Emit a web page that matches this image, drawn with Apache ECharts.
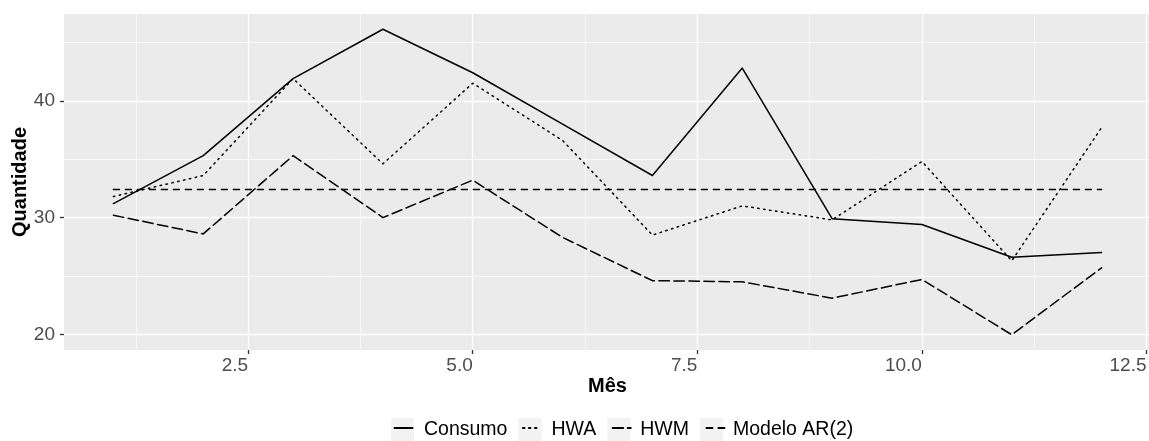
<!DOCTYPE html>
<html>
<head>
<meta charset="utf-8">
<title>Consumo mensal e previsões</title>
<script src="https://cdn.jsdelivr.net/npm/echarts@6/dist/echarts.min.js"></script>
<style>
  html, body { margin: 0; padding: 0; background: #ffffff; }
  #chart { width: 1149px; height: 441px; }
</style>
</head>
<body>
<div id="chart"></div>
<script>
// Mês 1..12
const meses = [1, 2, 3, 4, 5, 6, 7, 8, 9, 10, 11, 12];

// Séries observada e previstas
const consumo = [31.2, 35.3, 41.9, 46.12, 42.4, 38.0, 33.6, 42.8, 29.9, 29.4, 26.6, 27.0];
const hwa     = [31.8, 33.6, 41.9, 34.6, 41.5, 36.6, 28.5, 31.0, 29.8, 34.8, 26.3, 37.7];
const hwm     = [30.2, 28.6, 35.3, 30.0, 33.2, 28.3, 24.6, 24.5, 23.1, 24.7, 19.97, 25.7];
const ar2     = [32.4, 32.4, 32.4, 32.4, 32.4, 32.4, 32.4, 32.4, 32.4, 32.4, 32.4, 32.4];

const seriesNames = ['Consumo', 'HWA', 'HWM', 'Modelo AR(2)'];

// Marcas dos eixos (principais e secundárias)
const xTicks = [2.5, 5.0, 7.5, 10.0, 12.5];
const yTicks = [20, 30, 40];
const xMinor = [1.25, 3.75, 6.25, 8.75, 11.25];
const yMinor = [25, 35, 45];

const FONT = 'Liberation Sans, Arial, Helvetica, sans-serif';

// Expansão de 5% em torno dos dados, nos dois eixos
function expand(values) {
  const lo = Math.min.apply(null, values);
  const hi = Math.max.apply(null, values);
  const pad = (hi - lo) * 0.05;
  return [lo - pad, hi + pad];
}
const xRange = expand(meses);
const yRange = expand([].concat(consumo, hwa, hwm, ar2));

const pairs = (ys) => meses.map((m, i) => [m, ys[i]]);

function lineSeries(name, ys, dash) {
  return {
    name: name,
    type: 'line',
    data: pairs(ys),
    symbol: 'none',
    z: 3,
    lineStyle: {
      color: '#000000',
      width: 1.5,
      type: dash,
      cap: 'round',
      join: 'round'
    },
    itemStyle: { color: '#000000' },
    emphasis: { disabled: true }
  };
}

const legendText = {
  fontFamily: FONT,
  fontSize: 19.5,
  color: '#000000',
  padding: [0, 0, 0, 5]
};

const chart = echarts.init(document.getElementById('chart'), null, { renderer: 'canvas' });

chart.setOption({
  animation: false,
  backgroundColor: '#ffffff',
  grid: {
    left: 64,
    top: 14,
    width: 1087,
    height: 336,
    containLabel: false,
    outerBoundsMode: 'none',
    show: true,
    backgroundColor: '#EBEBEB',
    borderWidth: 0
  },
  xAxis: {
    type: 'value',
    min: xRange[0],
    max: xRange[1],
    name: 'Mês',
    nameLocation: 'middle',
    nameGap: 26,
    nameMoveOverlap: false,
    nameTextStyle: { fontFamily: FONT, fontSize: 20, fontWeight: 'bold', color: '#000000' },
    axisLine: { show: false },
    axisTick: {
      show: true,
      length: 4,
      customValues: xTicks,
      lineStyle: { color: '#333333', width: 1.3 }
    },
    axisLabel: {
      customValues: xTicks,
      align: 'right',
      margin: 6,
      fontFamily: FONT,
      fontSize: 19,
      color: '#4D4D4D',
      formatter: (v) => Number(v).toFixed(1)
    },
    splitLine: { show: true, lineStyle: { color: '#FFFFFF', width: 1.3 } }
  },
  yAxis: {
    type: 'value',
    min: yRange[0],
    max: yRange[1],
    name: 'Quantidade',
    nameLocation: 'middle',
    nameGap: 33.5,
    nameMoveOverlap: false,
    nameTextStyle: { fontFamily: FONT, fontSize: 20, fontWeight: 'bold', color: '#000000' },
    axisLine: { show: false },
    axisTick: {
      show: true,
      length: 4,
      customValues: yTicks,
      lineStyle: { color: '#333333', width: 1.3 }
    },
    axisLabel: {
      customValues: yTicks,
      margin: 9,
      fontFamily: FONT,
      fontSize: 19,
      color: '#4D4D4D'
    },
    splitLine: { show: true, lineStyle: { color: '#FFFFFF', width: 1.3 } }
  },
  legend: [
    {
      // caixas cinzentas das chaves
      data: seriesNames,
      left: 391,
      top: 418,
      padding: 0,
      itemWidth: 23,
      itemHeight: 23,
      itemGap: 11,
      icon: 'rect',
      selectedMode: false,
      z: 4,
      itemStyle: { color: '#F2F2F2', borderWidth: 0, borderColor: 'transparent', opacity: 1 },
      textStyle: legendText
    },
    {
      // traços das chaves
      data: seriesNames,
      left: 393.5,
      top: 418,
      padding: 0,
      itemWidth: 18,
      itemHeight: 23,
      itemGap: 16,
      selectedMode: false,
      z: 5,
      itemStyle: { color: 'transparent', borderWidth: 0, opacity: 0 },
      textStyle: Object.assign({}, legendText, { color: 'transparent' })
    }
  ],
  series: [
    {
      name: 'grelha secundária',
      type: 'line',
      data: [],
      silent: true,
      z: 1,
      markLine: {
        silent: true,
        z: 1,
        symbol: ['none', 'none'],
        label: { show: false },
        emphasis: { disabled: true },
        lineStyle: { color: '#FFFFFF', width: 0.65, type: 'solid' },
        data: xMinor.map((v) => ({ xAxis: v })).concat(yMinor.map((v) => ({ yAxis: v })))
      }
    },
    lineSeries('Consumo', consumo, 'solid'),
    lineSeries('HWA', hwa, [1.5, 4.5]),
    lineSeries('HWM', hwm, [10.5, 4.5]),
    lineSeries('Modelo AR(2)', ar2, [6, 6])
  ]
});
</script>
</body>
</html>
